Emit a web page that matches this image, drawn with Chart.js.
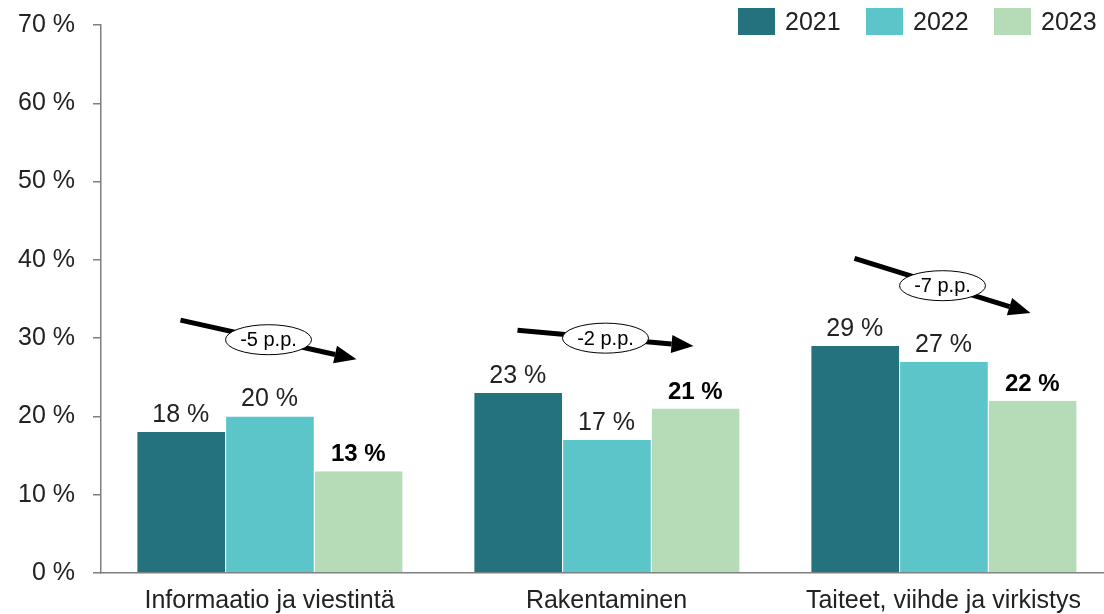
<!DOCTYPE html>
<html>
<head>
<meta charset="utf-8">
<script src="https://cdn.jsdelivr.net/npm/chart.js@4.4.1/dist/chart.umd.min.js"></script>
<style>
  html, body { margin: 0; padding: 0; background: #fff; overflow: hidden; }
  #wrap { position: relative; width: 1112px; height: 614px; }
</style>
</head>
<body>
<div id="wrap"><canvas id="chart"></canvas></div>
<script>
// ---- data
const categories = [ 'Informaatio ja viestintä', 'Rakentaminen', 'Taiteet, viihde ja virkistys' ];
const years = [ '2021', '2022', '2023' ];
const values2021 = [ 18, 23, 29 ];
const values2022 = [ 20, 17, 27 ];
const values2023 = [ 13, 21, 22 ];
const yTicks = [ 0, 10, 20, 30, 40, 50, 60, 70 ];

// arrow annotations: where the arrow starts (in %) and the change in p.p.
const arrowStart = [ 32.3, 31, 40.2 ];
const arrowChange = [ -5, -2, -7 ];

const colors = [ '#24727d', '#5bc5ca', '#b5dcb6' ];
const fontFamily = '"Liberation Sans", Arial, Helvetica, sans-serif';

const datasets = [ values2021, values2022, values2023 ].map( ( vals, i ) => ( {
	label: years[ i ],
	data: vals,
	backgroundColor: colors[ i ],
	borderColor: '#ffffff',
	borderWidth: { left: 1, right: 0, top: 0, bottom: 0 },
	borderSkipped: false,
	barPercentage: 1,
	categoryPercentage: 0.79
} ) );

// value labels over the bars, last year bold
const valueLabels = {
	id: 'valueLabels',
	afterDatasetsDraw( chart ) {
		const ctx = chart.ctx;
		ctx.save();
		ctx.textAlign = 'center';
		ctx.textBaseline = 'alphabetic';
		chart.data.datasets.forEach( ( ds, di ) => {
			const meta = chart.getDatasetMeta( di );
			const last = di === chart.data.datasets.length - 1;
			ctx.font = ( last ? 'bold 24px ' : '25px ' ) + fontFamily;
			ctx.fillStyle = last ? '#000' : '#222';
			meta.data.forEach( ( bar, i ) => {
				ctx.fillText( ds.data[ i ] + ' %', bar.x, bar.y - 10 );
			} );
		} );
		ctx.restore();
	}
};

// trend arrows with the p.p. ellipse
const trendArrows = {
	id: 'trendArrows',
	afterDraw( chart ) {
		const ctx = chart.ctx;
		const x = chart.scales.x;
		const y = chart.scales.y;
		ctx.save();
		categories.forEach( ( c, i ) => {
			const cx = x.getPixelForValue( i );
			const x1 = cx - 89;
			const x2 = cx + 87;
			const y1 = y.getPixelForValue( arrowStart[ i ] );
			const y2 = y.getPixelForValue( arrowStart[ i ] + arrowChange[ i ] );
			const ang = Math.atan2( y2 - y1, x2 - x1 );
			const headLen = 22;
			const headW = 9;
			const bx = x2 - headLen * Math.cos( ang );
			const by = y2 - headLen * Math.sin( ang );

			ctx.strokeStyle = '#000';
			ctx.lineWidth = 5;
			ctx.beginPath();
			ctx.moveTo( x1, y1 );
			ctx.lineTo( bx, by );
			ctx.stroke();

			ctx.fillStyle = '#000';
			ctx.beginPath();
			ctx.moveTo( x2, y2 );
			ctx.lineTo( bx + headW * Math.sin( ang ), by - headW * Math.cos( ang ) );
			ctx.lineTo( bx - headW * Math.sin( ang ), by + headW * Math.cos( ang ) );
			ctx.closePath();
			ctx.fill();

			const mx = ( x1 + x2 ) / 2;
			const my = ( y1 + y2 ) / 2;
			ctx.beginPath();
			ctx.ellipse( mx, my, 43, 15, 0, 0, Math.PI * 2 );
			ctx.fillStyle = '#fff';
			ctx.fill();
			ctx.lineWidth = 1;
			ctx.stroke();

			ctx.fillStyle = '#000';
			ctx.font = '20px ' + fontFamily;
			ctx.textAlign = 'center';
			ctx.textBaseline = 'middle';
			ctx.fillText( arrowChange[ i ] + ' p.p.', mx, my + 1 );
		} );
		ctx.restore();
	}
};

// legend in the top right corner
const cornerLegend = {
	id: 'cornerLegend',
	afterDraw( chart ) {
		const ctx = chart.ctx;
		ctx.save();
		ctx.font = '25px ' + fontFamily;
		ctx.textBaseline = 'middle';
		ctx.textAlign = 'left';
		let lx = 738;
		chart.data.datasets.forEach( ( ds ) => {
			ctx.fillStyle = ds.backgroundColor;
			ctx.fillRect( lx, 8, 37, 27 );
			ctx.fillStyle = '#222';
			ctx.fillText( ds.label, lx + 47, 23 );
			lx += 128;
		} );
		ctx.restore();
	}
};

new Chart( document.getElementById( 'chart' ), {
	type: 'bar',
	data: { labels: categories, datasets },
	plugins: [ valueLabels, trendArrows, cornerLegend ],
	options: {
		responsive: true,
		maintainAspectRatio: false,
		animation: false,
		layout: { padding: { top: 12, right: 0, bottom: 0, left: 0 } },
		plugins: {
			legend: { display: false },
			tooltip: { enabled: false }
		},
		scales: {
			x: {
				afterFit( s ) { s.height = 41; },
				grid: { display: false, drawTicks: false },
				border: { color: '#7f7f7f', width: 1.5 },
				ticks: {
					color: '#222',
					padding: 13,
					font: { family: fontFamily, size: 25 }
				}
			},
			y: {
				min: 0,
				max: 70,
				afterFit( s ) { s.width = 101; },
				afterBuildTicks( s ) { s.ticks = yTicks.map( v => ( { value: v } ) ); },
				grid: { drawOnChartArea: false, drawTicks: true, tickLength: 8, color: '#7f7f7f', lineWidth: 1.5 },
				border: { color: '#7f7f7f', width: 1.5 },
				ticks: {
					color: '#222',
					padding: 18,
					font: { family: fontFamily, size: 25, lineHeight: 0.56 },
					callback: v => v + ' %'
				}
			}
		}
	}
} );
</script>
</body>
</html>
